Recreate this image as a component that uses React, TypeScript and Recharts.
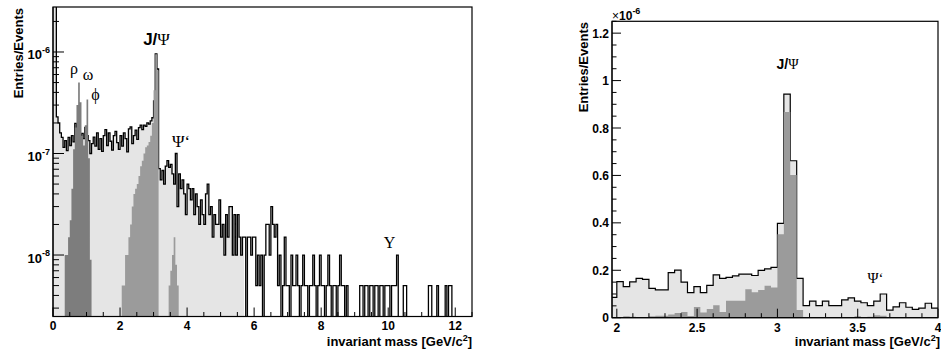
import React from "react";
import { ComposedChart, Area, XAxis, YAxis } from "recharts";

// ---- left panel: 0.05 GeV bins from 0 to 12.5, Entries/Events in units of 1e-9
const leftBinWidth = 0.05;
const leftTotal = [
  6000, 3000, 230, 200, 160, 144, 115, 134, 107, 144,
  120, 150, 130, 198, 169, 190, 125, 158, 140, 181,
  150, 134, 100, 125, 145, 118, 160, 110, 140, 105,
  150, 172, 120, 160, 132, 108, 150, 165, 128, 110,
  150, 118, 160, 140, 104, 175, 183, 125, 150, 170,
  138, 180, 190, 172, 190, 185, 200, 195, 210, 225,
  330, 960, 680, 71, 55, 68, 50, 75, 85, 73,
  78, 63, 50, 100, 30, 63, 45, 55, 40, 25,
  50, 45, 35, 45, 25, 40, 30, 20, 35, 25,
  20, 40, 50, 25, 30, 15, 25, 20, 20, 35,
  15, 20, 10, 25, 15, 30, 30, 10, 25, 10,
  25, 15, 10, 15, 15, 0, 15, 15, 10, 15,
  15, 5, 10, 5, 10, 0, 10, 20, 20, 10,
  30, 20, 15, 20, 5, 10, 0, 5, 15, 5,
  5, 0, 10, 5, 5, 10, 5, 0, 5, 10,
  5, 5, 0, 5, 5, 10, 5, 0, 5, 10,
  5, 5, 0, 5, 10, 5, 0, 5, 5, 0,
  5, 10, 5, 5, 0, 5, 0, 0, 0, 0,
  0, 0, 0, 5, 5, 0, 5, 5, 0, 5,
  5, 0, 5, 5, 0, 5, 5, 0, 5, 5,
  5, 0, 5, 5, 5, 10, 0, 0, 0, 5,
  5, 0, 0, 0, 0, 0, 0, 0, 0, 0,
  0, 0, 0, 0, 5, 5, 0, 0, 0, 5,
  0, 0, 0, 0, 5, 0, 5, 5, 0, 0,
  0, 0, 0, 0, 0, 0, 0, 0, 0, 0,
];
const leftFillEnd = 5.7;
const leftMesonStart = 0.35;
const leftMesons = [10, 10, 15, 22, 45, 110, 180, 300, 500, 320, 150, 120, 190, 340, 90, 9];
const leftJpsiStart = 2.05;
const leftJpsi = [5, 5, 10, 10, 15, 20, 30, 40, 45, 50, 60, 75, 85, 100, 115, 120, 130, 150, 200, 420, 950, 660];
const leftPsi2Start = 3.45;
const leftPsi2 = [5, 7, 10, 15, 8, 5];

const leftXTicks = [0, 0.5, 1, 1.5, 2, 2.5, 3, 3.5, 4, 4.5, 5, 5.5, 6, 6.5, 7, 7.5, 8, 8.5, 9, 9.5, 10, 10.5, 11, 11.5, 12, 12.5];
const leftXMajor = [0, 2, 4, 6, 8, 10, 12];
const leftXLabels = ["0", "2", "4", "6", "8", "10", "12"];
const leftYTicks = [3, 4, 5, 6, 7, 8, 9, 10, 20, 30, 40, 50, 60, 70, 80, 90, 100, 200, 300, 400, 500, 600, 700, 800, 900, 1000, 2000];
const leftYMajor = [10, 100, 1000];
const leftYExp = ["-8", "-7", "-6"];

// ---- right panel: 0.04 GeV bins from 1.96, Entries/Events in units of 1e-6
const rightBinWidth = 0.04;
const rightStart = 1.96;
const rightTotal = [
  0.086, 0.152, 0.131, 0.151, 0.166, 0.162, 0.124, 0.117, 0.117, 0.19,
  0.201, 0.15, 0.106, 0.131, 0.106, 0.136, 0.181, 0.166, 0.17, 0.176,
  0.184, 0.184, 0.178, 0.2, 0.206, 0.212, 0.398, 0.943, 0.662, 0.166,
  0.051, 0.07, 0.051, 0.07, 0.051, 0.051, 0.075, 0.084, 0.07, 0.063,
  0.051, 0.07, 0.1, 0.032, 0.046, 0.063, 0.044, 0.035, 0.04, 0.061,
  0.04,
];
const rightJpsi = [
  0, 0, 0.006, 0.004, 0.003, 0.002, 0.006, 0.008, 0.008, 0.014,
  0.02, 0.024, 0.007, 0.045, 0.022, 0.037, 0.052, 0.024, 0.072, 0.072,
  0.072, 0.12, 0.107, 0.117, 0.135, 0.127, 0.352, 0.867, 0.602, 0.032,
  0, 0, 0, 0, 0, 0, 0, 0, 0.006, 0,
  0.004, 0.01, 0.008, 0, 0, 0, 0, 0, 0, 0,
  0,
];

const rightXTicks = [2, 2.1, 2.2, 2.3, 2.4, 2.5, 2.6, 2.7, 2.8, 2.9, 3, 3.1, 3.2, 3.3, 3.4, 3.5, 3.6, 3.7, 3.8, 3.9, 4];
const rightXMajor = [2, 2.5, 3, 3.5, 4];
const rightXLabels = ["2", "2.5", "3", "3.5", "4"];
const rightYTicks = [0, 0.05, 0.1, 0.15, 0.2, 0.25, 0.3, 0.35, 0.4, 0.45, 0.5, 0.55, 0.6, 0.65, 0.7, 0.75, 0.8, 0.85, 0.9, 0.95, 1, 1.05, 1.1, 1.15, 1.2, 1.25];
const rightYMajor = [0, 0.2, 0.4, 0.6, 0.8, 1, 1.2];
const rightYLabels = ["0", "0.2", "0.4", "0.6", "0.8", "1", "1.2"];

const SANS = "'Liberation Sans', Arial, Helvetica, sans-serif";
const SERIF = "'Liberation Serif', 'DejaVu Serif', serif";
const LIGHT = "#e5e5e5";
const MID = "#9b9b9b";
const DARK = "#7d7d7d";

const LEFT_Y_MIN = 2.48;
const LEFT_Y_MAX = 2775;
const FLOOR = 0.5; // empty bins sit below the log axis and get clipped

const near = (a: number, b: number) => Math.abs(a - b) < 1e-6;
const pos = (v: number) => (v > 0 ? v : FLOOR);

// step histograms: one row per bin edge, last edge repeats the last bin
function piece(arr: number[], start: number, i: number, width: number) {
  const j = i - Math.round(start / width);
  if (j < 0 || j > arr.length) return null;
  return arr[Math.min(j, arr.length - 1)];
}

const leftRows = leftTotal.concat([0]).map((_, i) => {
  const x = +(i * leftBinWidth).toFixed(2);
  const total = leftTotal[Math.min(i, leftTotal.length - 1)];
  const fillBins = Math.round(leftFillEnd / leftBinWidth);
  const fill = i <= fillBins ? leftTotal[Math.min(i, fillBins - 1)] : null;
  const m = piece(leftMesons, leftMesonStart, i, leftBinWidth);
  const j = piece(leftJpsi, leftJpsiStart, i, leftBinWidth);
  const p = piece(leftPsi2, leftPsi2Start, i, leftBinWidth);
  return {
    x,
    total: pos(total),
    fill: fill == null ? null : pos(fill),
    mesons: m == null ? null : pos(m),
    jpsi: j == null ? null : pos(j),
    psi2: p == null ? null : pos(p),
  };
});

const rightRows = rightTotal.concat([0]).map((_, i) => {
  const k = Math.min(i, rightTotal.length - 1);
  return {
    x: +(rightStart + i * rightBinWidth).toFixed(2),
    total: rightTotal[k],
    jpsi: rightJpsi[k],
  };
});

function LeftXTick(props: any) {
  const { x, y, payload } = props;
  const k = leftXMajor.findIndex((m) => near(m, payload.value));
  const len = k >= 0 ? 9 : 4.5;
  return (
    <g>
      <line x1={x} x2={x} y1={y} y2={y - len} stroke="#000" />
      {k >= 0 && (
        <text x={x} y={y + 13} textAnchor="middle" fontFamily={SANS} fontWeight="bold" fontSize={12} fill="#000">
          {leftXLabels[k]}
        </text>
      )}
    </g>
  );
}

function LeftYTick(props: any) {
  const { x, y, payload } = props;
  const k = leftYMajor.findIndex((m) => near(m, payload.value));
  const len = k >= 0 ? 11 : 6;
  return (
    <g>
      <line x1={x} x2={x + len} y1={y} y2={y} stroke="#000" />
      {k >= 0 && (
        <text x={x - 3} y={y + 7.5} textAnchor="end" fontFamily={SANS} fontWeight="bold" fontSize={13} fill="#000">
          <tspan>10</tspan>
          <tspan dy={-6.5} fontSize={9}>{leftYExp[k]}</tspan>
        </text>
      )}
    </g>
  );
}

function RightXTick(props: any) {
  const { x, y, payload } = props;
  const k = rightXMajor.findIndex((m) => near(m, payload.value));
  const len = k >= 0 ? 9 : 4.5;
  return (
    <g>
      <line x1={x} x2={x} y1={y} y2={y - len} stroke="#000" />
      {k >= 0 && (
        <text x={x} y={y + 14} textAnchor="middle" fontFamily={SANS} fontWeight="bold" fontSize={12} fill="#000">
          {rightXLabels[k]}
        </text>
      )}
    </g>
  );
}

function RightYTick(props: any) {
  const { x, y, payload } = props;
  const k = rightYMajor.findIndex((m) => near(m, payload.value));
  const len = k >= 0 ? 9 : 4.5;
  return (
    <g>
      <line x1={x} x2={x + len} y1={y} y2={y} stroke="#000" />
      {k >= 0 && (
        <text x={x - 3} y={y + 4.5} textAnchor="end" fontFamily={SANS} fontWeight="bold" fontSize={12} fill="#000">
          {rightYLabels[k]}
        </text>
      )}
    </g>
  );
}

function LeftPanel() {
  return (
    <ComposedChart width={480} height={353} data={leftRows} margin={{ top: 7, right: 8, bottom: 6.5, left: 8 }}>
      <Area dataKey="fill" type="stepAfter" stroke="none" fill={LIGHT} fillOpacity={1} baseValue={LEFT_Y_MIN} dot={false} activeDot={false} isAnimationActive={false} />
      <Area dataKey="total" type="stepAfter" stroke="#000" strokeWidth={1.3} fill="none" baseValue={LEFT_Y_MIN} dot={false} activeDot={false} isAnimationActive={false} />
      <Area dataKey="mesons" type="stepAfter" stroke="none" fill={DARK} fillOpacity={1} baseValue={LEFT_Y_MIN} dot={false} activeDot={false} isAnimationActive={false} />
      <Area dataKey="jpsi" type="stepAfter" stroke="none" fill={MID} fillOpacity={1} baseValue={LEFT_Y_MIN} dot={false} activeDot={false} isAnimationActive={false} />
      <Area dataKey="psi2" type="stepAfter" stroke="none" fill={MID} fillOpacity={1} baseValue={LEFT_Y_MIN} dot={false} activeDot={false} isAnimationActive={false} />
      <XAxis
        dataKey="x"
        type="number"
        domain={[0, 12.5]}
        allowDataOverflow
        ticks={leftXTicks}
        interval={0}
        tick={<LeftXTick />}
        tickLine={false}
        tickSize={0}
        tickMargin={0}
        axisLine={{ stroke: "#000" }}
        height={30}
      />
      <YAxis
        type="number"
        scale="log"
        domain={[LEFT_Y_MIN, LEFT_Y_MAX]}
        allowDataOverflow
        ticks={leftYTicks}
        interval={0}
        tick={<LeftYTick />}
        tickLine={false}
        tickSize={0}
        tickMargin={0}
        axisLine={{ stroke: "#000" }}
        width={45}
      />
    </ComposedChart>
  );
}

function RightPanel() {
  return (
    <ComposedChart width={461} height={353} data={rightRows} margin={{ top: 21.3, right: 3, bottom: 5.3, left: 8 }}>
      <Area dataKey="total" type="stepAfter" stroke="#000" strokeWidth={1.2} fill={LIGHT} fillOpacity={1} baseValue={0} dot={false} activeDot={false} isAnimationActive={false} />
      <Area dataKey="jpsi" type="stepAfter" stroke="none" fill={MID} fillOpacity={1} baseValue={0} dot={false} activeDot={false} isAnimationActive={false} />
      <XAxis
        dataKey="x"
        type="number"
        domain={[1.97, 4]}
        allowDataOverflow
        ticks={rightXTicks}
        interval={0}
        tick={<RightXTick />}
        tickLine={false}
        tickSize={0}
        tickMargin={0}
        axisLine={{ stroke: "#000" }}
        height={30}
      />
      <YAxis
        type="number"
        domain={[0, 1.25]}
        allowDataOverflow
        ticks={rightYTicks}
        interval={0}
        tick={<RightYTick />}
        tickLine={false}
        tickSize={0}
        tickMargin={0}
        axisLine={{ stroke: "#000" }}
        width={124}
      />
    </ComposedChart>
  );
}

export default function App() {
  return (
    <div style={{ position: "absolute", left: 0, top: 0, width: 941, height: 353, background: "#fff", overflow: "hidden" }}>
      <div style={{ position: "absolute", left: 0, top: 0 }}>
        <LeftPanel />
      </div>
      <div style={{ position: "absolute", left: 480, top: 0 }}>
        <RightPanel />
      </div>
      <svg width={941} height={353} style={{ position: "absolute", left: 0, top: 0, pointerEvents: "none" }}>
        {/* frames */}
        <rect x={53} y={7} width={419} height={309.5} fill="none" stroke="#000" strokeWidth={1.2} />
        <rect x={612} y={21.3} width={326} height={296.4} fill="none" stroke="#000" strokeWidth={1.2} />

        {/* axis titles */}
        <text transform="translate(22.5,8) rotate(-90)" textAnchor="end" fontFamily={SANS} fontWeight="bold" fontSize={13} fill="#000">
          Entries/Events
        </text>
        <text transform="translate(588,22) rotate(-90)" textAnchor="end" fontFamily={SANS} fontWeight="bold" fontSize={13} fill="#000">
          Entries/Events
        </text>
        <text x={472} y={346} textAnchor="end" fontFamily={SANS} fontWeight="bold" fontSize={13} fill="#000">
          invariant mass [GeV/c<tspan dy={-5} fontSize={9}>2</tspan><tspan dy={5}>]</tspan>
        </text>
        <text x={940} y={345.5} textAnchor="end" fontFamily={SANS} fontWeight="bold" fontSize={13} fill="#000">
          invariant mass [GeV/c<tspan dy={-5} fontSize={9}>2</tspan><tspan dy={5}>]</tspan>
        </text>
        <text x={612} y={20} fontFamily={SANS} fontWeight="bold" fontSize={12} fill="#000">
          <tspan fontWeight="normal">×</tspan>10<tspan dy={-6} fontSize={9}>-6</tspan>
        </text>

        {/* resonance labels */}
        <text x={74} y={74} textAnchor="middle" fontFamily={SERIF} fontSize={16} fill="#000">ρ</text>
        <text x={88} y={80} textAnchor="middle" fontFamily={SERIF} fontSize={16} fill="#000">ω</text>
        <text x={95.5} y={100} textAnchor="middle" fontFamily={SERIF} fontSize={16} fill="#000">ϕ</text>
        <text x={156.5} y={45} textAnchor="middle" fontSize={17} fill="#000">
          <tspan fontFamily={SANS} fontWeight="bold">J/</tspan>
          <tspan fontFamily={SERIF}>Ψ</tspan>
        </text>
        <text x={181} y={147} textAnchor="middle" fontFamily={SERIF} fontSize={17} fill="#000">Ψ‘</text>
        <text x={389.5} y={248} textAnchor="middle" fontFamily={SERIF} fontSize={16} fill="#000">Υ</text>
        <text x={787.5} y={69} textAnchor="middle" fontSize={14} fill="#000">
          <tspan fontFamily={SANS} fontWeight="bold">J/</tspan>
          <tspan fontFamily={SERIF}>Ψ</tspan>
        </text>
        <text x={875.5} y={282.5} textAnchor="middle" fontFamily={SERIF} fontSize={15} fill="#000">Ψ‘</text>
      </svg>
    </div>
  );
}
